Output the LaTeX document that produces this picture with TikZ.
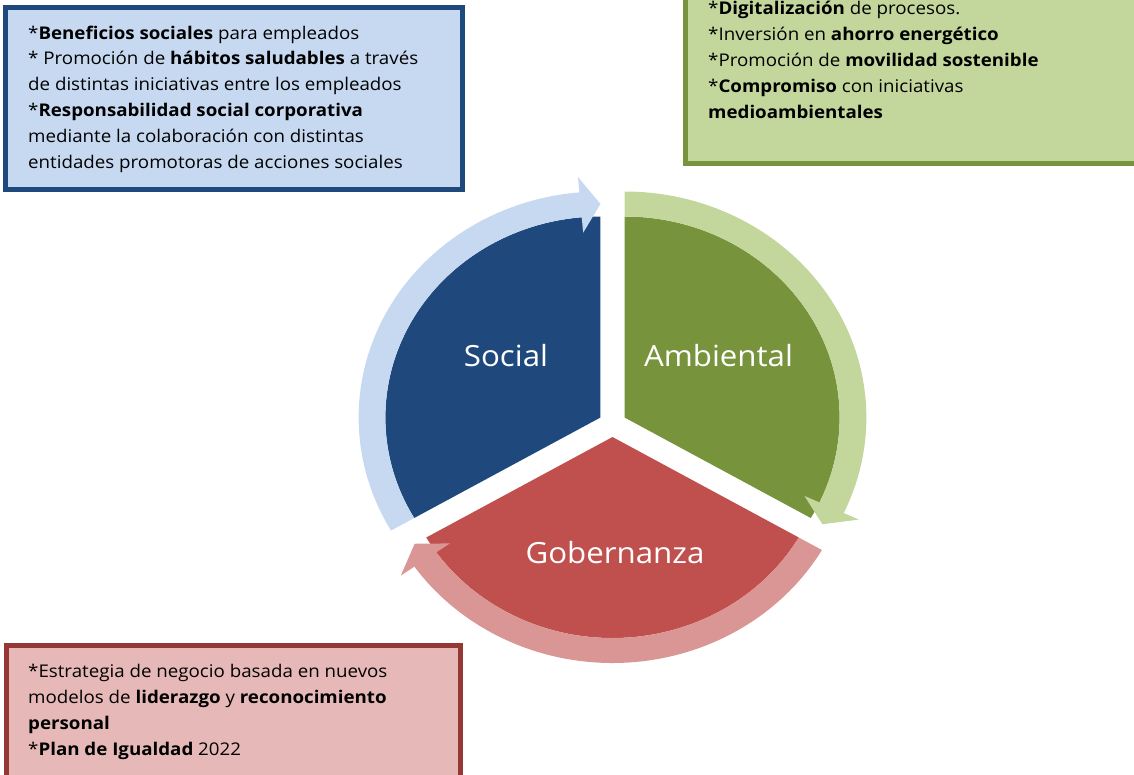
\documentclass[tikz,border=0pt]{standalone}
\usepackage{fontspec}
\setmainfont{Open Sans}[FakeStretch=1.07]

\definecolor{socdark}{HTML}{1F497D}
\definecolor{soclight}{HTML}{C6D9F1}
\definecolor{ambdark}{HTML}{77933C}
\definecolor{amblight}{HTML}{C3D69B}
\definecolor{gobdark}{HTML}{C0504D}
\definecolor{goblight}{HTML}{D99694}
\definecolor{gobbox}{HTML}{E6B9B8}
\definecolor{gobedge}{HTML}{953735}

\tikzset{
  boxframe/.style={line width=5pt},
  % base of a multi-line node sits on its last line
  boxtext/.style={anchor=base west, align=left, inner sep=0pt,
    font=\fontsize{17.5}{25.8}\selectfont},
  cyclelabel/.style={anchor=base, inner sep=0pt, text=white,
    font=\fontsize{29.2}{36}\selectfont},
}

\begin{document}
\begin{tikzpicture}[x=1pt,y=-1pt]
    \useasboundingbox (0,0) rectangle (1134,774);
    \clip (0,0) rectangle (1134,774);

    % the three text boxes (green and red run off the page)
    \filldraw[boxframe, draw=socdark, fill=soclight] (5.5,7.5) rectangle (462.5,189.5);
    \filldraw[boxframe, draw=ambdark, fill=amblight] (685,-10) rectangle (1145,163.5);
    \filldraw[boxframe, draw=gobedge, fill=gobbox] (6,645.5) rectangle (460,790);

    \node[boxtext] (socialtext) at (28,168) {*\textbf{Beneficios sociales} para empleados\\
      * Promoción de \textbf{hábitos saludables} a través\\
      de distintas iniciativas entre los empleados\\
      {}*\textbf{Responsabilidad social corporativa}\\
      mediante la colaboración con distintas\\
      entidades promotoras de acciones sociales};
    \node[boxtext] (ambtext) at (708,118) {*\textbf{Digitalización} de procesos.\\
      {}*Inversión en \textbf{ahorro energético}\\
      {}*Promoción de \textbf{movilidad sostenible}\\
      {}*\textbf{Compromiso} con iniciativas\\
      \textbf{medioambientales}};
    \node[boxtext] (gobtext) at (28,755) {*Estrategia de negocio basada en nuevos\\
      modelos de \textbf{liderazgo} y \textbf{reconocimiento}\\
      \textbf{personal}\\
      {}*\textbf{Plan de Igualdad} 2022};

    % cycle: pie pieces pulled apart, arrows on top
    \begin{scope}[shift={(612.5,424)}, xscale=1.07, yscale=-1]
      \foreach \a/\dark in {150/socdark, 30/ambdark, 270/gobdark}
        \fill[\dark] (\a:13) -- ++(\a+60:201)
          arc[start angle=\a+60, end angle=\a-60, radius=201] -- cycle;
      \foreach \a/\light in {150/soclight, 30/amblight, 270/goblight} {
        \begin{scope}[shift={(\a:13)}]
          \fill[\light] (\a+60:201) arc[start angle=\a+60, end angle=\a-55, radius=201]
            -- (\a-55:185.5) -- (\a-60:213.5) -- (\a-55:241.5) -- (\a-55:226)
            arc[start angle=\a-55, end angle=\a+60, radius=226] -- cycle;
        \end{scope}
      }
    \end{scope}

    \node[cyclelabel] (social) at (506,366) {Social};
    \node[cyclelabel] (ambiental) at (718.5,366) {Ambiental};
    \node[cyclelabel] (gobernanza) at (615,563) {Gobernanza};
\end{tikzpicture}
\end{document}
